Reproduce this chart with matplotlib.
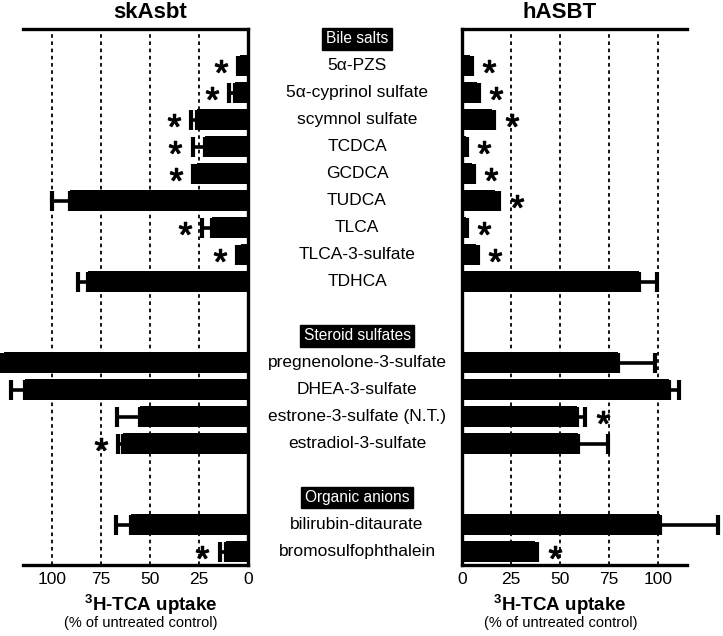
import matplotlib
matplotlib.use("Agg")
import matplotlib.pyplot as plt
from matplotlib.transforms import blended_transform_factory, offset_copy

plt.rcParams['font.family'] = ['Liberation Sans', 'DejaVu Sans']
plt.rcParams['mathtext.fontset'] = 'custom'
plt.rcParams['mathtext.rm'] = 'Liberation Sans'
plt.rcParams['mathtext.bf'] = 'Liberation Sans:bold'

# ── Data ──────────────────────────────────────────────────────────────────────
groups = ["Bile salts", "Steroid sulfates", "Organic anions"]
compounds = [
    ["5α-PZS", "5α-cyprinol sulfate", "scymnol sulfate", "TCDCA", "GCDCA",
     "TUDCA", "TLCA", "TLCA-3-sulfate", "TDHCA"],
    ["pregnenolone-3-sulfate", "DHEA-3-sulfate", "estrone-3-sulfate (N.T.)",
     "estradiol-3-sulfate"],
    ["bilirubin-ditaurate", "bromosulfophthalein"],
]

# skAsbt: % of untreated control, SEM, significance
sk_mean = [4, 6.5, 26, 22, 26, 91, 18.5, 3.5, 82, 124.5, 114, 55, 64, 60, 11]
sk_err = [1, 3, 3, 6.3, 2, 9, 5, 2, 5, 1.5, 7.3, 12, 2.3, 7.3, 3.4]
sk_sig = [1, 1, 1, 1, 1, 0, 1, 1, 0, 0, 0, 0, 1, 0, 1]

# hASBT
h_mean = [4, 7.5, 15.5, 2, 5, 17, 2, 7, 90.5, 79.5, 106, 59, 59.5, 101, 37.5]
h_err = [1, 1, 1, 0.5, 1, 2, 0.5, 1, 9, 19, 5, 4, 15, 30, 1]
h_sig = [1, 1, 1, 1, 1, 1, 1, 1, 0, 0, 0, 1, 0, 0, 1]

xticks = [0, 25, 50, 75, 100]

# ── Row layout: header row, compound rows, one blank row per group ───────────
ypos, header_y, names = [], [], []
slot = 0
for g, items in zip(groups, compounds):
    header_y.append(slot)
    slot += 1
    for n in items:
        ypos.append(slot)
        names.append(n)
        slot += 1
    slot += 1

W, H = 723, 636
fig = plt.figure(figsize=(W / 100, H / 100), dpi=100)
ax_l = fig.add_axes([23 / W, 1 - 565 / H, 225 / W, 536 / H])
ax_r = fig.add_axes([462 / W, 1 - 565 / H, 225 / W, 536 / H])


def draw_panel(ax, mean, err, sig, direction):
    ax.set_axisbelow(True)
    for xt in xticks[1:]:
        ax.axvline(xt, color='black', lw=1.3, linestyle=(0, (2, 2)), zorder=0)
    bars = ax.barh(ypos, mean, height=0.78, color='black', zorder=2)
    for b in bars:
        b.set_clip_on(False)
    eb = ax.errorbar(mean, ypos, xerr=[[0] * len(err), err], fmt='none',
                     ecolor='black', elinewidth=2.6, capsize=7, capthick=3,
                     zorder=2)
    for art in eb.lines[1] + eb.lines[2]:
        art.set_clip_on(False)
    # significance asterisks, a fixed distance beyond the error bar
    star_tr = offset_copy(ax.transData, fig=fig, x=direction * 12.5, y=0,
                          units='points')
    sx = [m + e for m, e, s in zip(mean, err, sig) if s]
    sy = [y for y, s in zip(ypos, sig) if s]
    ax.plot(sx, sy, linestyle='none', marker=r'$*$', markersize=9,
            color='black', mew=0.9, transform=star_tr, clip_on=False,
            zorder=3)
    ax.set_ylim(19.5, -0.37)
    ax.set_yticks([])
    ax.set_xticks(xticks)
    ax.tick_params(axis='x', length=0, pad=5, labelsize=12.5)
    for sp in ax.spines.values():
        sp.set_linewidth(2.4)


draw_panel(ax_l, sk_mean, sk_err, sk_sig, -1)
ax_l.set_xlim(115, 0)
ax_l.spines['left'].set_visible(False)

draw_panel(ax_r, h_mean, h_err, h_sig, 1)
ax_r.set_xlim(0, 115)
ax_r.spines['right'].set_visible(False)

# ── Central compound labels and group headers ────────────────────────────────
tr = blended_transform_factory(fig.transFigure, ax_l.transData)
xc = 357 / W
for n, y in zip(names, ypos):
    fig.text(xc, y, n, transform=tr, ha='center', va='center', fontsize=12.5)
for g, y in zip(groups, header_y):
    fig.text(xc, y, g, transform=tr, ha='center', va='center', fontsize=11.2,
             color='white',
             bbox=dict(boxstyle='square,pad=0.22', fc='black', ec='black'))

# ── Titles and axis captions ─────────────────────────────────────────────────
for ax, title, x_sub in [(ax_l, "skAsbt", 141), (ax_r, "hASBT", 561)]:
    tt = blended_transform_factory(ax.transData, fig.transFigure)
    ax.text(50, 1 - 13 / H, title, transform=tt, ha='center', va='center',
            fontsize=16, fontweight='bold')
    ax.text(50, 1 - 605 / H, r"$^{\mathbf{3}}$H-TCA uptake", transform=tt,
            ha='center', va='center', fontsize=13.5, fontweight='bold')
    fig.text(x_sub / W, 1 - 623 / H, "(% of untreated control)",
             ha='center', va='center', fontsize=10.5)

fig.savefig("out.png", dpi=100)
